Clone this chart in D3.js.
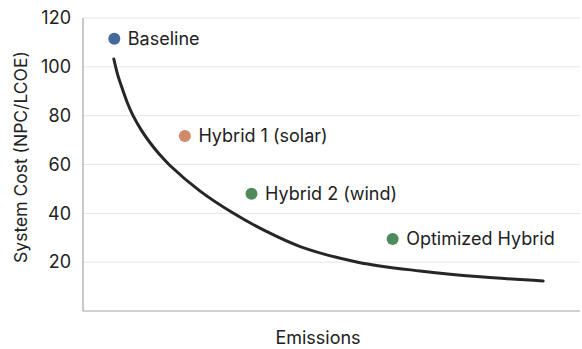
<!DOCTYPE html>
<html>
<head>
<meta charset="utf-8">
<script src="https://cdn.jsdelivr.net/npm/d3@7"></script>
<style>
  html, body { margin: 0; padding: 0; background: #ffffff; }
  svg { display: block; }
  text { font-family: Inter, "Noto Sans", sans-serif; fill: #222; }
</style>
</head>
<body>
<svg id="chart" width="582" height="349"></svg>
<script>
// Trade-off frontier: system cost against emissions
const frontierEmissions = [6.2, 7.0, 7.9, 8.9, 10.1, 11.7, 13.5, 15.5, 17.5, 23.5, 30.2, 36.6, 43.7, 55.3, 67.8, 79.9, 92.6];
const frontierCost      = [103.2, 96.6, 91.1, 85.4, 79.9, 74.2, 68.9, 63.9, 59.6, 49.2, 40.1, 32.9, 26.4, 20.0, 16.4, 14.0, 12.3];

// Design alternatives
const scenarioNames     = ["Baseline", "Hybrid 1 (solar)", "Hybrid 2 (wind)", "Optimized Hybrid"];
const scenarioEmissions = [6.3, 20.5, 33.9, 62.3];
const scenarioCost      = [111.5, 71.7, 48, 29.5];
const scenarioColors    = ["#45699d", "#d08a68", "#4f8a5c", "#4f8a5c"];

const yTicks = [20, 40, 60, 80, 100, 120];

const svg = d3.select("#chart");
const W = 582, H = 349;
const margin = { left: 83, right: 2, top: 18, bottom: 38 };

const x = d3.scaleLinear().domain([0, 100]).range([margin.left, W - margin.right]);
const y = d3.scaleLinear().domain([0, 120]).range([H - margin.bottom, margin.top]);

// Horizontal gridlines
svg.append("g")
  .selectAll("line")
  .data(yTicks)
  .join("line")
  .attr("x1", x(0)).attr("x2", x(100))
  .attr("y1", d => y(d)).attr("y2", d => y(d))
  .attr("stroke", "#e6e6e6").attr("stroke-width", 1);

// Y axis with tick labels only
const yAxis = d3.axisLeft(y).tickValues(yTicks).tickSize(0).tickPadding(12);
const gy = svg.append("g").attr("transform", `translate(${margin.left},0)`).call(yAxis);
gy.select(".domain").remove();
gy.selectAll("text")
  .style("font-family", "Inter, 'Noto Sans', sans-serif")
  .style("font-size", "18px")
  .attr("fill", "#2a2a2a");

// Axis lines
svg.append("line")
  .attr("x1", x(0)).attr("x2", x(0))
  .attr("y1", y(120)).attr("y2", y(0))
  .attr("stroke", "#a4a4a4").attr("stroke-width", 1.2);
svg.append("line")
  .attr("x1", x(0)).attr("x2", x(100))
  .attr("y1", y(0)).attr("y2", y(0))
  .attr("stroke", "#a4a4a4").attr("stroke-width", 1.2);

// Frontier curve
const line = d3.line()
  .x((d, i) => x(frontierEmissions[i]))
  .y(d => y(d))
  .curve(d3.curveCatmullRom.alpha(0.5));
svg.append("path")
  .datum(frontierCost)
  .attr("d", line)
  .attr("fill", "none")
  .attr("stroke", "#262626")
  .attr("stroke-width", 3)
  .attr("stroke-linecap", "round");

// Scenario markers and labels
const pts = svg.append("g").selectAll("g")
  .data(scenarioNames)
  .join("g")
  .attr("transform", (d, i) => `translate(${x(scenarioEmissions[i])},${y(scenarioCost[i])})`);
pts.append("circle")
  .attr("r", 6)
  .attr("fill", (d, i) => scenarioColors[i]);
pts.append("text")
  .attr("x", 13.5)
  .attr("dy", "0.35em")
  .style("font-size", "18px")
  .text(d => d);

// Axis titles
svg.append("text")
  .attr("x", 318).attr("y", 344)
  .attr("text-anchor", "middle")
  .style("font-size", "18px")
  .text("Emissions");
svg.append("text")
  .attr("transform", "translate(27,157) rotate(-90)")
  .attr("text-anchor", "middle")
  .style("font-size", "17.5px")
  .text("System Cost (NPC/LCOE)");
</script>
</body>
</html>
